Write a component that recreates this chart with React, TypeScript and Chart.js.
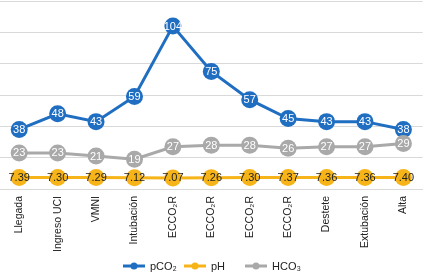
import React, { useEffect, useRef } from "react";
import { Chart, registerables } from "chart.js";

Chart.register(...registerables);

const categories = [
  "Llegada", "Ingreso UCI", "VMNI", "Intubación", "ECCO₂R", "ECCO₂R", "ECCO₂R", "ECCO₂R", "Destete", "Extubación", "Alta",
];
const pco2 = [38, 48, 43, 59, 104, 75, 57, 45, 43, 43, 38];
const ph = [7.39, 7.3, 7.29, 7.12, 7.07, 7.26, 7.3, 7.37, 7.36, 7.36, 7.4];
const hco3 = [23, 23, 21, 19, 27, 28, 28, 26, 27, 27, 29];
const seriesNames = ["pCO₂", "pH", "HCO₃"];
const colors = ["#1F6EC2", "#F7B418", "#A9A9A9"];
const labelColors = ["#FFFFFF", "#222222", "#FFFFFF"];
const decimals = [0, 2, 0];

const FONT = "'Liberation Sans', Arial, sans-serif";

const dataLabels = {
  id: "dataLabels",
  afterDatasetDraw(chart: any, args: any) {
    const i = args.index;
    const meta = args.meta;
    const ds = chart.data.datasets[i];
    const ctx = chart.ctx;
    ctx.save();
    ctx.font = `11px ${FONT}`;
    ctx.textAlign = "center";
    ctx.textBaseline = "middle";
    ctx.fillStyle = labelColors[i];
    meta.data.forEach((pt: any, j: number) => {
      const v = ds.data[j] as number;
      ctx.fillText(v.toFixed(decimals[i]), pt.x, pt.y + 0.5);
    });
    ctx.restore();
  },
};

const customLegend = {
  id: "customLegend",
  afterDraw(chart: any) {
    const ctx = chart.ctx;
    const slot = 61;
    const y = chart.height - 11;
    let x = chart.width / 2 - 88.5;
    ctx.save();
    ctx.font = `11px ${FONT}`;
    ctx.textBaseline = "middle";
    ctx.textAlign = "left";
    chart.data.datasets.forEach((ds: any, i: number) => {
      ctx.strokeStyle = colors[i];
      ctx.lineWidth = 3;
      ctx.beginPath();
      ctx.moveTo(x, y);
      ctx.lineTo(x + 22, y);
      ctx.stroke();
      ctx.fillStyle = colors[i];
      ctx.beginPath();
      ctx.arc(x + 11, y, 3.5, 0, Math.PI * 2);
      ctx.fill();
      ctx.fillStyle = "#222222";
      ctx.fillText(ds.label, x + 27, y + 0.5);
      x += slot;
    });
    ctx.restore();
  },
};

export default function App() {
  const ref = useRef<HTMLCanvasElement>(null);
  useEffect(() => {
    const series = [pco2, ph, hco3];
    const chart = new Chart(ref.current!, {
      type: "line",
      data: {
        labels: categories,
        datasets: series.map((d, i) => ({
          label: seriesNames[i],
          data: d,
          borderColor: colors[i],
          backgroundColor: colors[i],
          pointBackgroundColor: colors[i],
          pointBorderColor: colors[i],
          pointRadius: 8.5,
          pointBorderWidth: 0,
          borderWidth: 3,
          tension: 0,
          order: 3 - i,
          clip: false,
        })),
      },
      options: {
        animation: false,
        responsive: false,
        layout: { autoPadding: false, padding: { top: 1, left: 0, right: 0, bottom: 21 } },
        scales: {
          x: {
            offset: true,
            grid: { display: false, drawTicks: false },
            border: { display: true, color: "#D9D9D9", width: 1 },
            afterFit: (s: any) => {
              s.height = 67;
            },
            ticks: {
              minRotation: 90,
              maxRotation: 90,
              padding: 7,
              color: "#222222",
              font: { family: FONT, size: 10.5 },
            },
          },
          y: {
            min: 0,
            max: 120,
            ticks: { display: false, stepSize: 20 },
            grid: { color: "#D9D9D9", drawTicks: false },
            border: { display: false },
          },
        },
        plugins: {
          tooltip: { enabled: false },
          legend: { display: false },
        },
      },
      plugins: [dataLabels, customLegend],
    });
    return () => chart.destroy();
  }, []);
  return (
    <div style={{ position: "fixed", left: 0, top: 0, width: 423, height: 277, background: "#fff" }}>
      <canvas ref={ref} width={423} height={277} style={{ width: 423, height: 277 }} />
    </div>
  );
}
